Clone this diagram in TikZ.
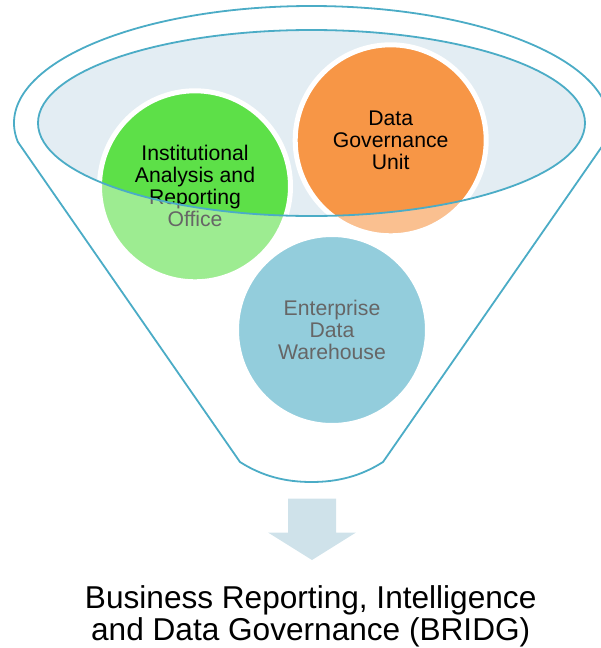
\documentclass[tikz,border=0pt]{standalone}
\usepackage{fontspec}
\setmainfont{Liberation Sans}
\definecolor{funnelline}{HTML}{4BACC6}
\definecolor{innerfill}{HTML}{E3EDF3}
\definecolor{arrowfill}{HTML}{CFE2EA}
\definecolor{cgreen}{HTML}{5DE048}
\definecolor{corange}{HTML}{F79646}
\definecolor{cblue}{HTML}{4BACC6}
\begin{document}
\begin{tikzpicture}[x=1pt,y=-1pt,
  bub/.style={circle, draw=white, line width=5pt, minimum size=191pt, inner sep=0pt,
    align=center, text=black, font=\fontsize{21.2}{22}\selectfont},
  outline/.style={draw=funnelline, line width=1.8pt, line join=round}]
\useasboundingbox (0,0) rectangle (600,648);
% inner ellipse fill
\fill[innerfill] (311.5,123) ellipse [x radius=273.5, y radius=93];
% circles
\node[bub, fill=cgreen] (iaro) at (195,186.3) {Institutional\\Analysis and\\Reporting\\Office};
\node[bub, fill=corange] (dgu) at (390.7,140.3) {Data\\Governance\\Unit};
\node[bub, fill=cblue] (edw) at (332,330) {Enterprise\\Data\\Warehouse};
% translucent funnel body outside the mouth
\fill[white, opacity=0.4, even odd rule] (-5,-5) rectangle (610,495)
  (311.5,123) ellipse [x radius=273.5, y radius=93];
% outlines
\draw[outline] (311.5,123) ellipse [x radius=273.5, y radius=93];
\coordinate (fl) at (17.9,142);
\coordinate (fr) at (605.1,142);
\coordinate (bl) at (240,462);
\coordinate (br) at (383,462);
\coordinate (bm) at (311.5,482);
\begin{scope}
\clip (-5,-5) rectangle (615,142);
\draw[outline] (311.5,123) ellipse [x radius=297.5, y radius=117];
\end{scope}
\draw[outline] (fl) -- (bl) .. controls (262,476) and (285,482) .. (bm)
  .. controls (338,482) and (361,476) .. (br) -- (fr);
% arrow
\fill[arrowfill] (288,498.5) -- (336,498.5) -- (336,532.5) -- (356,532.5) -- (312,560)
  -- (268,532.5) -- (288,532.5) -- cycle;
\node[align=center, font=\fontsize{31.6}{31.7}\selectfont, inner sep=0pt, anchor=base] (bridg) at (310.7,640)
  {Business Reporting, Intelligence\\and Data Governance (BRIDG)};
\end{tikzpicture}
\end{document}
